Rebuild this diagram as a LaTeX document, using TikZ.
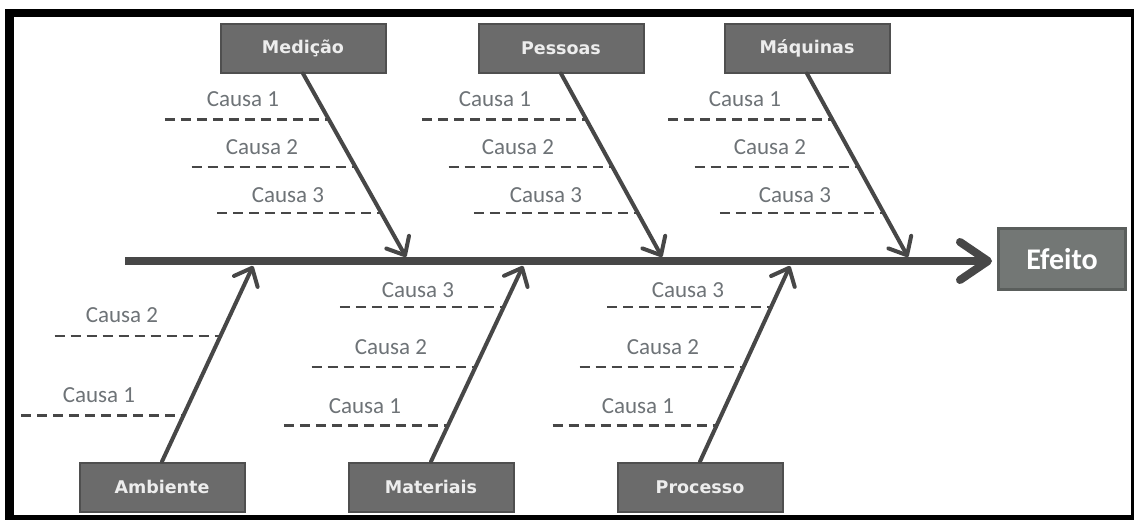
\documentclass[tikz,border=0pt]{standalone}
\usepackage{fontspec}
\setmainfont{Carlito}
\newfontfamily\boxfont{DejaVu Sans}
\usetikzlibrary{arrows.meta,calc}
\definecolor{bonegray}{HTML}{474747}
\definecolor{boxfill}{HTML}{6B6B6B}
\definecolor{boxedge}{HTML}{4F4F4F}
\definecolor{boxtext}{HTML}{EDEDED}
\definecolor{causetext}{HTML}{6E7377}
\definecolor{effectfill}{HTML}{737775}
\definecolor{effectedge}{HTML}{5A5E5C}
\tikzset{
  catbox/.style={draw=boxedge, line width=2pt, fill=boxfill, minimum width=165pt,
    minimum height=49pt, inner sep=0pt, text=boxtext,
    font=\boxfont\bfseries\fontsize{17.5}{20}\selectfont},
  effectbox/.style={draw=effectedge, line width=3pt, fill=effectfill, minimum width=127pt,
    minimum height=61pt, inner sep=0pt, text=white,
    font=\bfseries\fontsize{30}{34}\selectfont},
  causelabel/.style={text=causetext, inner sep=0pt, font=\fontsize{23}{26}\selectfont},
  causeline/.style={draw=bonegray, line width=2.5pt, dash pattern=on 10pt off 6pt},
  bone/.style={draw=bonegray, line width=4pt, line cap=round,
    -{Straight Barb[length=15pt,width=26pt,round]}},
  spine/.style={draw=bonegray, line width=8pt,
    -{Straight Barb[length=28pt,width=38pt,round]}},
  framebar/.style={fill=black, draw=none}
}
\begin{document}
\begin{tikzpicture}[x=1pt,y=-1pt]
  \useasboundingbox (0,0) rectangle (1135,520);
  % outer frame
  \fill[white] (0,0) rectangle (1135,520);
  \path[framebar] (5,9) rectangle (1134,17);
  \path[framebar] (5,9) rectangle (14,520);
  \path[framebar] (1131,9) rectangle (1134,520);
  \path[framebar] (5,515) rectangle (1134,520);

  % effect and spine
  \node[effectbox] (eff) at (1062,259) {Efeito};
  \coordinate (tail) at (125,261);
  \draw[spine, shorten >=5pt] (tail) -- (tail -| eff.west);

  % category boxes
  \node[catbox] (med) at (303,48) {Medição};
  \node[catbox] (pes) at (561,48) {Pessoas};
  \node[catbox] (maq) at (807,48) {Máquinas};
  \node[catbox] (amb) at (162,487) {Ambiente};
  \node[catbox] (mat) at (431,487) {Materiais};
  \node[catbox] (pro) at (700,487) {Processo};

  % bone tips on the spine
  \coordinate (medtip) at (406,257);
  \coordinate (pestip) at (662,257);
  \coordinate (maqtip) at (908,257);
  \coordinate (ambtip) at (253,266);
  \coordinate (mattip) at (523,266);
  \coordinate (protip) at (790,266);

  % upper causes: dashes end on the bone
  \foreach \b in {med,pes,maq}{
    \path (\b.south) -- (\b tip) coordinate[pos={(119-73)/184}] (\b c1)
                                 coordinate[pos={(167-73)/184}] (\b c2)
                                 coordinate[pos={(213-73)/184}] (\b c3);
    \draw[causeline] ($(\b c1)+(-164,0)$) coordinate (\b s1) -- (\b c1);
    \draw[causeline] ($(\b c2)+(-164,0)$) coordinate (\b s2) -- (\b c2);
    \draw[causeline] ($(\b c3)+(-164,0)$) coordinate (\b s3) -- (\b c3);
  }
  \node[causelabel] (medl1) at (243,99) {Causa 1};
  \node[causelabel] (medl2) at (262,147) {Causa 2};
  \node[causelabel] (medl3) at (288,195) {Causa 3};
  \node[causelabel] (pesl1) at (495,99) {Causa 1};
  \node[causelabel] (pesl2) at (518,147) {Causa 2};
  \node[causelabel] (pesl3) at (546,195) {Causa 3};
  \node[causelabel] (maql1) at (745,99) {Causa 1};
  \node[causelabel] (maql2) at (770,147) {Causa 2};
  \node[causelabel] (maql3) at (795,195) {Causa 3};

  % lower causes
  \path (amb.north) -- (ambtip) coordinate[pos={(462-336)/196}] (ambc2)
                                 coordinate[pos={(462-416)/196}] (ambc1);
  \draw[causeline] ($(ambc2)+(-166,0)$) coordinate (ambs2) -- (ambc2);
  \draw[causeline] ($(ambc1)+(-162,0)$) coordinate (ambs1) -- (ambc1);
  \node[causelabel] (ambl2) at (122,315) {Causa 2};
  \node[causelabel] (ambl1) at (99,395) {Causa 1};

  \foreach \b in {mat,pro}{
    \path (\b.north) -- (\b tip) coordinate[pos={(462-307)/196}] (\b c3)
                                 coordinate[pos={(462-367)/196}] (\b c2)
                                 coordinate[pos={(462-426)/196}] (\b c1);
    \draw[causeline] ($(\b c3)+(-164,0)$) coordinate (\b s3) -- (\b c3);
    \draw[causeline] ($(\b c2)+(-164,0)$) coordinate (\b s2) -- (\b c2);
    \draw[causeline] ($(\b c1)+(-164,0)$) coordinate (\b s1) -- (\b c1);
  }
  \node[causelabel] (matl3) at (418,290) {Causa 3};
  \node[causelabel] (matl2) at (391,347) {Causa 2};
  \node[causelabel] (matl1) at (365,406) {Causa 1};
  \node[causelabel] (prol3) at (688,290) {Causa 3};
  \node[causelabel] (prol2) at (663,347) {Causa 2};
  \node[causelabel] (prol1) at (638,406) {Causa 1};

  % bones
  \draw[bone] (med.south) -- (medtip);
  \draw[bone] (pes.south) -- (pestip);
  \draw[bone] (maq.south) -- (maqtip);
  \draw[bone] (amb.north) -- (ambtip);
  \draw[bone] (mat.north) -- (mattip);
  \draw[bone] (pro.north) -- (protip);
\end{tikzpicture}
\end{document}
